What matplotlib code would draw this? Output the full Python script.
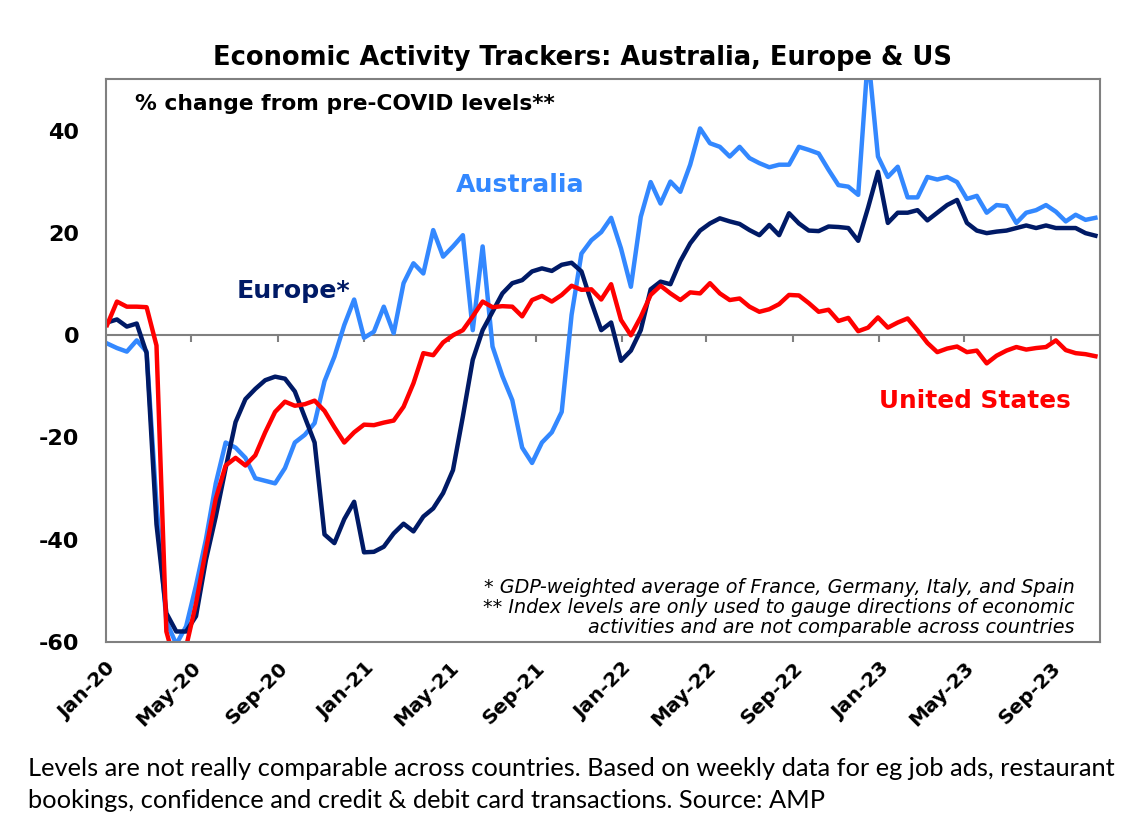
import pandas as pd
import matplotlib.pyplot as plt
import matplotlib.dates as mdates

# fortnightly readings, first Friday of Jan 2020 onward
dates = pd.date_range("2020-01-03", periods=101, freq="14D")

australia = [
    -1.6, -2.5, -3.2, -1.0, -3.2, -33, -56, -60.5, -57, -49,
    -40, -29, -21, -22, -24, -28, -28.5, -29, -26, -21,
    -19.5, -17.2, -9, -4.2, 2, 7, -0.5, 0.7, 5.6, 0.4,
    10.2, 14.1, 12.1, 20.6, 15.4, 17.4, 19.6, 1.0, 17.4, -2.2,
    -8, -12.7, -22, -25, -21, -19, -15, 4, 16, 18.6,
    20.2, 23, 17, 9.5, 23.2, 30, 25.8, 30.1, 28.1, 33.4,
    40.5, 37.6, 36.9, 35, 36.9, 34.7, 33.7, 32.9, 33.4, 33.4,
    36.9, 36.3, 35.6, 32.4, 29.4, 29.1, 27.5, 55, 35, 31,
    33, 27, 27, 31, 30.5, 31, 30, 26.7, 27.3, 24,
    25.5, 25.3, 22, 24, 24.5, 25.5, 24.2, 22.3, 23.6, 22.6,
    23,
]

europe = [
    2.5, 3.1, 1.7, 2.3, -3.5, -37, -54.4, -58, -58, -55,
    -44, -35.5, -26, -17, -12.5, -10.5, -8.8, -8.1, -8.5, -11,
    -16, -21, -39, -40.7, -36, -32.6, -42.5, -42.4, -41.4, -38.8,
    -36.9, -38.4, -35.5, -33.9, -30.9, -26.4, -15.9, -4.8, 1.0, 4.6,
    8.2, 10.2, 10.8, 12.5, 13.1, 12.6, 13.8, 14.2, 12.5, 6.5,
    1.0, 2.5, -5, -3, 1, 9, 10.5, 10, 14.5, 18,
    20.5, 21.9, 22.9, 22.3, 21.8, 20.6, 19.6, 21.6, 19.6, 23.9,
    21.9, 20.5, 20.4, 21.3, 21.2, 21.0, 18.5, 25, 32, 22,
    24, 24, 24.5, 22.5, 24, 25.5, 26.5, 22, 20.5, 20,
    20.3, 20.5, 21, 21.5, 21, 21.5, 21, 21, 21, 20,
    19.5,
]

united_states = [
    2.0, 6.6, 5.6, 5.6, 5.5, -2, -58, -65, -61, -52.5,
    -42, -32, -25.5, -24, -25.5, -23.5, -19, -15, -13, -13.8,
    -13.5, -12.8, -14.8, -18, -21, -19, -17.5, -17.6, -17.1, -16.7,
    -14, -9.4, -3.5, -3.9, -1.4, 0, 1.0, 3.7, 6.6, 5.5,
    5.7, 5.6, 3.7, 6.9, 7.7, 6.6, 7.9, 9.7, 8.9, 9.0,
    7.0, 10, 3, 0, 3.6, 7.9, 9.7, 8.2, 6.9, 8.4,
    8.2, 10.2, 8.2, 6.9, 7.2, 5.6, 4.6, 5.1, 6.1, 7.9,
    7.8, 6.3, 4.6, 5.0, 2.8, 3.4, 0.8, 1.5, 3.5, 1.5,
    2.5, 3.3, 1.0, -1.5, -3.3, -2.6, -2.2, -3.3, -3.0, -5.5,
    -4.0, -3.0, -2.3, -2.8, -2.5, -2.3, -1.0, -2.9, -3.5, -3.7,
    -4.1,
]

tick_dates = pd.date_range("2020-01-01", "2023-09-01", freq="4MS")
y_ticks = [40, 20, 0, -20, -40, -60]

AUS_C = "#3388ff"
EUR_C = "#001a66"
US_C = "#ff0000"
GREY = "#808080"

plt.rcParams["font.family"] = ["DejaVu Sans"]

fig = plt.figure(figsize=(11.36, 8.35), dpi=100)
ax = fig.add_axes([0.093, 0.2315, 0.875, 0.674])

ax.plot(dates, australia, color=AUS_C, lw=3.2, solid_joinstyle="round")
ax.plot(dates, europe, color=EUR_C, lw=3.2, solid_joinstyle="round")
ax.plot(dates, united_states, color=US_C, lw=3.2, solid_joinstyle="round")

ax.set_ylim(-60, 50.2)
ax.set_xlim(pd.Timestamp("2020-01-01"), pd.Timestamp("2023-11-09"))

# zero line with small ticks hanging from it (Excel style)
ax.axhline(0, color=GREY, lw=1.5, zorder=1)
ax.vlines(tick_dates, -1.4, 0, color=GREY, lw=1.5, zorder=1)

ax.set_xticks(tick_dates)
ax.set_xticklabels([d.strftime("%b-%y") for d in tick_dates],
                   rotation=45, ha="right", rotation_mode="anchor",
                   fontsize=14.5, fontweight="bold")
ax.tick_params(axis="x", length=0, pad=12)
ax.set_yticks(y_ticks)
ax.set_yticklabels([str(v) for v in y_ticks], fontsize=16, fontweight="bold")
ax.tick_params(axis="y", length=0, pad=19)

for s in ax.spines.values():
    s.set_color(GREY)
    s.set_linewidth(1.5)

fig.text(0.513, 0.930, "Economic Activity Trackers: Australia, Europe & US",
         ha="center", va="center", fontsize=18.5, fontweight="bold")
ax.text(0.03, 0.955, "% change from pre-COVID levels**", transform=ax.transAxes,
        ha="left", va="center", fontsize=15.7, fontweight="bold")

ax.text(0.352, 0.812, "Australia", transform=ax.transAxes, color=AUS_C,
        fontsize=18.2, fontweight="bold", ha="left", va="center")
ax.text(0.132, 0.623, "Europe*", transform=ax.transAxes, color=EUR_C,
        fontsize=18.2, fontweight="bold", ha="left", va="center")
ax.text(0.778, 0.428, "United States", transform=ax.transAxes, color=US_C,
        fontsize=17.8, fontweight="bold", ha="left", va="center")

notes = ["* GDP-weighted average of France, Germany, Italy, and Spain",
         "** Index levels are only used to gauge directions of economic",
         "activities and are not comparable across countries"]
for k, line in enumerate(notes):
    ax.text(0.975, 0.097 - k * 0.0355, line, transform=ax.transAxes,
            ha="right", va="center", fontsize=13.8, style="italic")

cap_font = ["Lato", "DejaVu Sans"]
fig.text(0.025, 0.080,
         "Levels are not really comparable across countries. Based on weekly data for eg job ads, restaurant",
         family=cap_font, fontsize=18.3, ha="left", va="center")
fig.text(0.025, 0.041,
         "bookings, confidence and credit & debit card transactions. Source: AMP",
         family=cap_font, fontsize=18.3, ha="left", va="center")

fig.savefig("out.png", dpi=100)
